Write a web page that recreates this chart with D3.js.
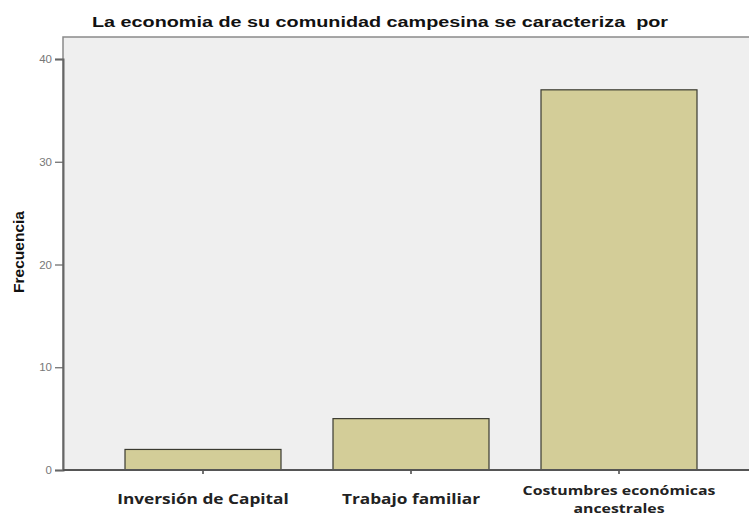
<!DOCTYPE html>
<html><head><meta charset="utf-8">
<script src="https://cdn.jsdelivr.net/npm/d3@7"></script>
<style>body{margin:0;background:#fff}svg{display:block}</style>
</head><body>
<script>
const categories = [["Inversión de Capital"], ["Trabajo familiar"], ["Costumbres económicas", "ancestrales"]];
const values = [2, 5, 37];
const yTicks = [0, 10, 20, 30, 40];
const title = "La economia de su comunidad campesina se caracteriza  por";
const yLabel = "Frecuencia";

const W = 749, H = 517;
const svg = d3.select("body").append("svg").attr("width", W).attr("height", H);
const plot = {left: 63, right: 752, top: 37, bottom: 470};

svg.append("rect").attr("x", plot.left).attr("y", plot.top)
  .attr("width", plot.right - plot.left).attr("height", plot.bottom - plot.top)
  .attr("fill", "#efefef").attr("stroke", "#8a8a8a").attr("stroke-width", 1.5);

const x = d3.scaleBand().domain(d3.range(categories.length)).range([99, 723])
  .paddingInner(0.25).paddingOuter(0.125);
const y = d3.scaleLinear().domain([0, 40]).range([470, 59]);

svg.append("g").selectAll("rect").data(values).join("rect")
  .attr("x", (d, i) => x(i)).attr("width", x.bandwidth())
  .attr("y", d => y(d)).attr("height", d => y(0) - y(d))
  .attr("fill", "#d3cd98").attr("stroke", "#3a3a30").attr("stroke-width", 1.2);

// y axis
const ya = svg.append("g").attr("transform", `translate(${plot.left},0)`)
  .call(d3.axisLeft(y).tickValues(yTicks).tickSize(8).tickPadding(3).tickFormat(d3.format("d")));
ya.select(".domain").attr("stroke", "#666").attr("stroke-width", 2);
ya.selectAll(".tick line").attr("stroke", "#666").attr("stroke-width", 1.2);
ya.selectAll(".tick text").attr("fill", "#777").attr("font-family", "Liberation Sans, Arial, sans-serif").attr("font-size", 11.5);

// x axis
const xa = svg.append("g").attr("transform", `translate(0,${plot.bottom})`)
  .call(d3.axisBottom(x).tickSize(4).tickFormat(""));
xa.select(".domain").remove();
xa.selectAll(".tick line").attr("stroke", "#444").attr("stroke-width", 1.5);
svg.append("line").attr("x1", plot.left).attr("x2", W).attr("y1", plot.bottom).attr("y2", plot.bottom)
  .attr("stroke", "#555").attr("stroke-width", 2);

// x labels (reference text is horizontally stretched)
categories.forEach((lines, i) => {
  const cx = x(i) + x.bandwidth() / 2;
  const multi = lines.length > 1;
  const stretch = multi ? 1.22 : 1.15;
  lines.forEach((l, j) => {
    const t = svg.append("text").attr("text-anchor", "middle")
      .attr("x", cx).attr("y", multi ? 495 + j * 18 : 504)
      .attr("font-family", "Open Sans, sans-serif").attr("font-weight", 700)
      .attr("font-size", multi ? 13 : 15)
      .attr("fill", "#222").text(l);
    const w = t.node().getComputedTextLength();
    t.attr("textLength", w * stretch).attr("lengthAdjust", "spacingAndGlyphs");
  });
});

// title
svg.append("text").attr("x", 92).attr("y", 27)
  .style("white-space", "pre")
  .attr("font-family", "Liberation Sans, Arial, sans-serif").attr("font-weight", "bold").attr("font-size", 14.5)
  .attr("textLength", 576).attr("lengthAdjust", "spacingAndGlyphs")
  .attr("fill", "#111").text(title);

// y label
svg.append("text").attr("transform", "translate(24,252) rotate(-90)").attr("text-anchor", "middle")
  .attr("font-family", "Liberation Sans, Arial, sans-serif").attr("font-weight", "bold").attr("font-size", 15.5)
  .attr("fill", "#111").text(yLabel);
</script>
</body></html>
